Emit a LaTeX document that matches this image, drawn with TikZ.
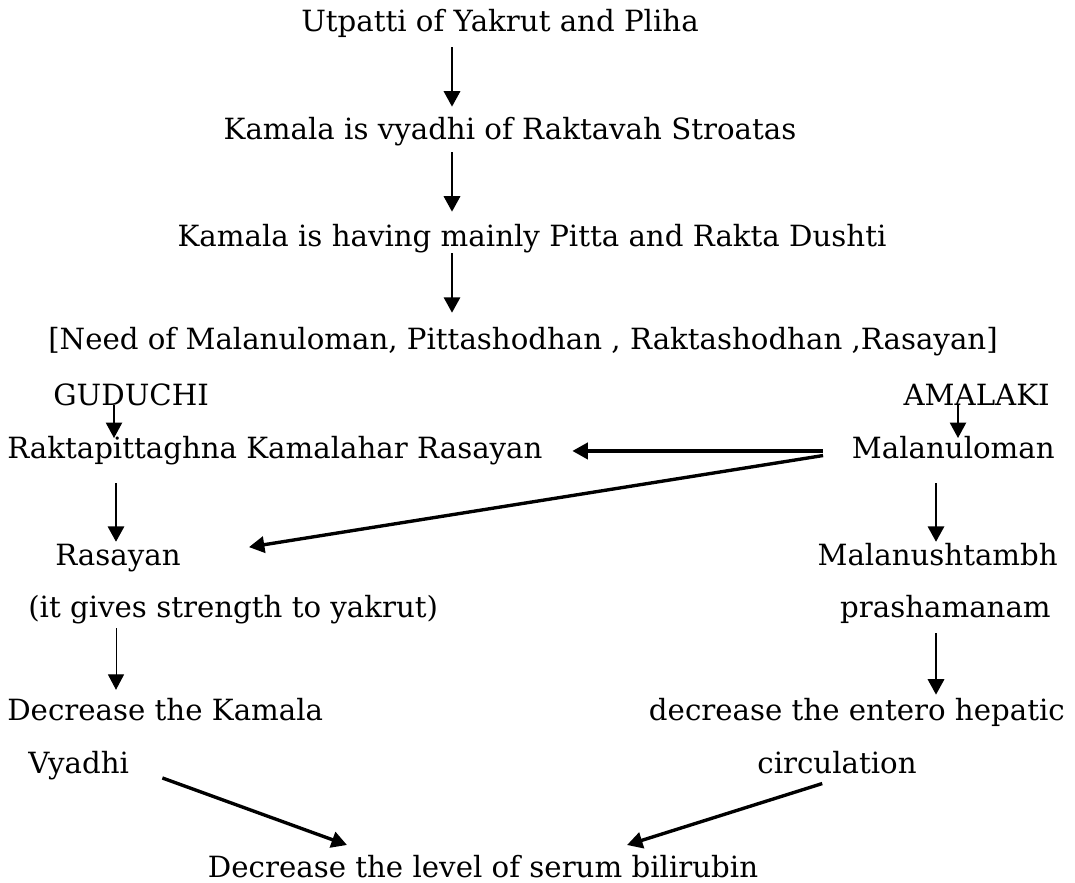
\documentclass[tikz,border=0pt]{standalone}
\usepackage{fontspec}
\setmainfont{DejaVu Serif}
\usetikzlibrary{arrows.meta,positioning}

\begin{document}
\begin{tikzpicture}[x=0.7113pt, y=-0.7113pt, >={Triangle[length=11pt,width=11.5pt]},
                    font=\fontsize{20.8}{24}\selectfont]
    \tikzstyle{phrase} = [inner sep=0pt, text height=14pt, text depth=4pt]
    \tikzstyle{flowarrow} = [->, line width=1.9pt]
    \tikzstyle{boldarrow} = [->, line width=2.4pt]
    \tikzstyle{thinarrow} = [->, line width=0.7pt]

    \useasboundingbox (0,0) rectangle (1075,883);

    % columns of the vertical arrows
    \coordinate (colM) at (452,0);
    \coordinate (colL) at (116,0);
    \coordinate (colR) at (936,0);
    \coordinate (colG) at (114,0);
    \coordinate (colA) at (958,0);

    \node (utp)  [phrase, anchor=base] at (500,32) {Utpatti of Yakrut and Pliha};
    \node (vya)  [phrase, anchor=base] at (510,140) {Kamala is vyadhi of Raktavah Stroatas};
    \node (hav)  [phrase, anchor=base] at (532,247) {Kamala is having mainly Pitta and Rakta Dushti};
    \node (need) [phrase, anchor=base] at (523,350) {[Need of Malanuloman, Pittashodhan , Raktashodhan ,Rasayan]};
    \node (gud)  [phrase, anchor=base west] at (53,405) {GUDUCHI};
    \node (ama)  [phrase, anchor=base east] at (1050,405) {AMALAKI};
    \node (rak)  [phrase, anchor=base west] at (7,458) {Raktapittaghna Kamalahar Rasayan};
    \node (mal)  [phrase, anchor=base east] at (1055,458) {Malanuloman};
    \node (ras)  [phrase, anchor=base west] at (55,565) {Rasayan};
    \node (mst)  [phrase, anchor=base east] at (1058,565) {Malanushtambh};
    \node (str)  [phrase, anchor=base west] at (28,617) {(it gives strength to yakrut)};
    \node (pra)  [phrase, anchor=base east] at (1051,617) {prashamanam};
    \node (dka)  [phrase, anchor=base west] at (7,720) {Decrease the Kamala};
    \node (deh)  [phrase, anchor=base east] at (1065,720) {decrease the entero hepatic};
    \node (vyd)  [phrase, anchor=base west] at (28,773) {Vyadhi};
    \node (cir)  [phrase, anchor=base] at (837,773) {circulation};
    \node (bil)  [phrase, anchor=base] at (483,877) {Decrease the level of serum bilirubin};
    \coordinate (bilL) at (347,845);
    \coordinate (bilR) at (627,845);

    \draw [flowarrow, shorten <=6.7pt, shorten >=9.5pt] (utp.south -| colM) -- (vya.north -| colM);
    \draw [flowarrow, shorten <=4.6pt, shorten >=10.9pt] (vya.south -| colM) -- (hav.north -| colM);
    \draw [flowarrow, shorten <=0.3pt, shorten >=12.3pt] (hav.south -| colM) -- (need.north -| colM);
    \draw [flowarrow, line width=1.4pt] (gud.base -| colG) -- (rak.north -| colG);
    \draw [flowarrow, line width=1.4pt] (ama.base -| colA) -- (mal.north -| colA);
    \draw [boldarrow, shorten <=20.6pt, shorten >=21pt] (mal.west) -- (rak.east);
    \draw [boldarrow, shorten <=20.6pt, shorten >=49pt] (mal.west) -- (ras.east);
    \draw [flowarrow, shorten <=13.8pt, shorten >=2.3pt] (rak.south -| colL) -- (ras.north -| colL);
    \draw [flowarrow, shorten <=13.8pt, shorten >=2.3pt] (mal.south -| colR) -- (mst.north -| colR);
    \draw [thinarrow, shorten <=3.8pt, shorten >=7.3pt] (str.south -| colL) -- (dka.north -| colL);
    \draw [flowarrow, shorten <=7.4pt, shorten >=3.8pt] (pra.south -| colR) -- (deh.north -| colR);
    \draw [boldarrow, shorten <=25pt] (vyd.east) -- (bilL);
    \draw [boldarrow, shorten <=11pt] (cir.south) -- (bilR);
\end{tikzpicture}
\end{document}
